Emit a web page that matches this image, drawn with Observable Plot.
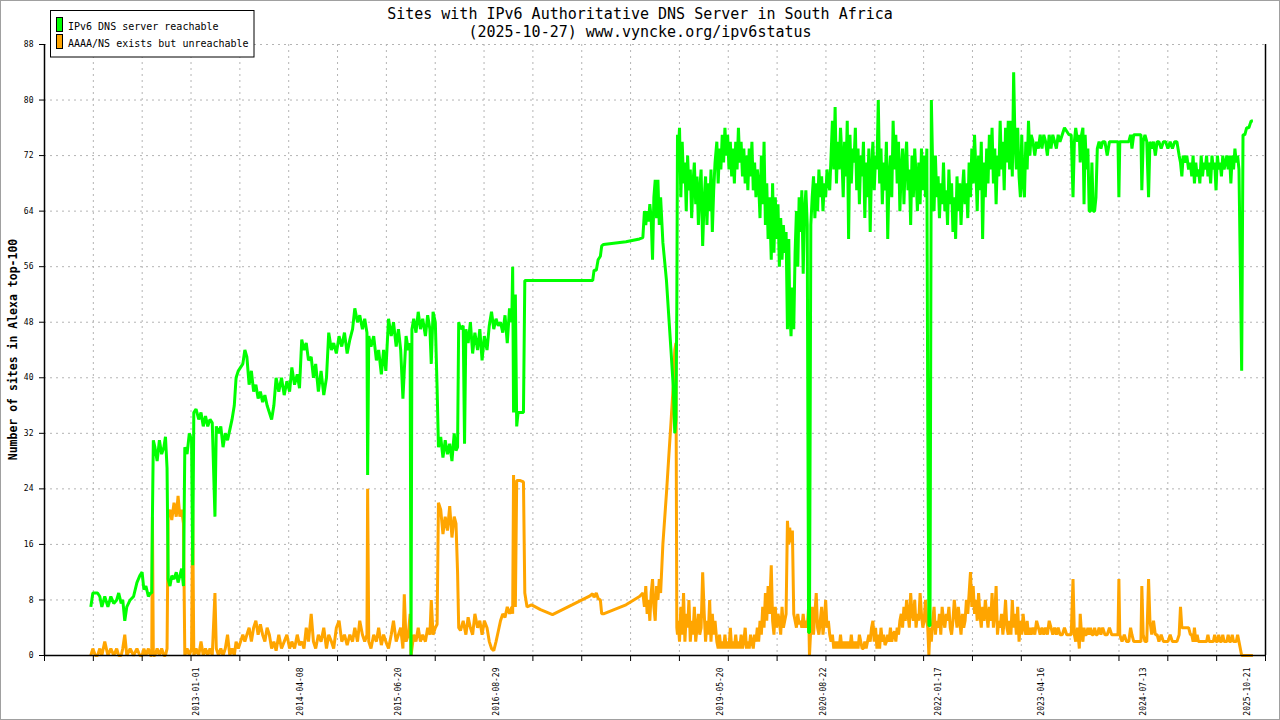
<!DOCTYPE html>
<html>
<head>
<meta charset="utf-8">
<script src="https://cdn.jsdelivr.net/npm/d3@7"></script>
<script src="https://cdn.jsdelivr.net/npm/@observablehq/plot@0.6"></script>
<style>
  html, body { margin: 0; padding: 0; background: #fff; }
  #chart svg { display: block; }
</style>
</head>
<body>
<div id="chart"></div>
<script>
// Days since 2013-01-01 for each measurement
const day = [
  -480,-471,-460,-450,-440,-431,-418,-404,-391,-378,
  -365,-356,-345,-338,-329,-320,-305,-290,-275,-262,
  -252,-244,-235,-224,-215,-209,-206,-202,-195,-185,
  -175,-165,-155,-148,-141,-136,-128,-120,-110,-100,
  -92,-84,-76,-68,-62,-52,-42,-32,-27,-22,
  -12,0,10,20,30,40,50,60,72,78,
  88,98,108,118,128,138,148,158,166,176,
  186,196,205,214,224,234,244,254,264,274,
  284,294,304,314,324,334,344,356,368,380,
  392,404,414,426,438,448,458,468,478,488,
  500,510,520,532,544,556,568,578,590,600,
  612,624,636,648,660,672,684,694,706,716,
  728,738,748,751,756,766,778,790,800,812,
  822,832,844,856,866,878,888,898,908,914,
  922,932,940,944,948,956,966,976,986,996,
  1008,1018,1028,1034,1042,1052,1060,1066,1076,1086,
  1096,1106,1116,1126,1136,1144,1151,1156,1164,1176,
  1182,1188,1198,1208,1218,1228,1240,1250,1260,1270,
  1282,1292,1302,1312,1322,1332,1342,1352,1362,1372,
  1382,1392,1396,1400,1408,1414,1420,1430,1444,1450,
  1460,1480,1520,1573,1660,1740,1752,1758,1768,1776,
  1786,1792,1800,1900,1960,1975,1982,1988,1994,2000,
  2006,2012,2018,2024,2030,2036,2042,2048,2054,2064,
  2080,2090,2100,2110,2117,2122,2126,2129,2132,2138,
  2144,2150,2156,2162,2168,2174,2180,2186,2192,2198,
  2204,2210,2216,2222,2228,2234,2241,2248,2254,2260,
  2266,2272,2278,2284,2290,2296,2304,2310,2316,2322,
  2328,2334,2340,2346,2352,2358,2364,2370,2376,2382,
  2388,2394,2400,2406,2412,2418,2424,2430,2436,2442,
  2448,2454,2460,2466,2472,2478,2484,2490,2496,2502,
  2508,2514,2520,2526,2532,2538,2546,2552,2558,2564,
  2570,2576,2582,2588,2594,2600,2606,2612,2618,2624,
  2628,2634,2640,2646,2652,2658,2664,2670,2676,2682,
  2688,2694,2700,2706,2712,2716,2722,2728,2734,2740,
  2746,2752,2758,2764,2770,2776,2782,2788,2794,2800,
  2806,2812,2818,2824,2830,2836,2842,2848,2854,2860,
  2866,2872,2878,2884,2890,2896,2902,2908,2914,2920,
  2926,2932,2938,2944,2950,2956,2962,2968,2974,2980,
  2986,2992,2998,3004,3010,3016,3022,3028,3034,3040,
  3046,3052,3058,3064,3070,3076,3082,3088,3094,3100,
  3106,3112,3118,3124,3130,3136,3142,3148,3154,3160,
  3166,3172,3178,3184,3190,3196,3202,3208,3214,3220,
  3226,3232,3238,3242,3247,3252,3258,3264,3270,3276,
  3282,3288,3294,3300,3306,3312,3318,3324,3330,3336,
  3342,3348,3354,3360,3366,3372,3378,3384,3390,3396,
  3402,3408,3414,3420,3426,3432,3438,3444,3450,3456,
  3462,3468,3474,3480,3486,3492,3498,3504,3510,3516,
  3522,3528,3534,3540,3546,3552,3558,3564,3570,3576,
  3582,3588,3594,3600,3606,3612,3618,3624,3630,3636,
  3642,3648,3654,3660,3666,3672,3678,3684,3690,3696,
  3702,3710,3718,3726,3734,3742,3750,3758,3766,3774,
  3782,3790,3798,3806,3814,3822,3830,3840,3850,3860,
  3870,3880,3888,3894,3900,3908,3916,3920,3926,3932,
  3937,3942,3948,3954,3960,3966,3972,3978,3984,3990,
  3996,4004,4012,4020,4030,4040,4050,4060,4070,4080,
  4088,4092,4096,4106,4116,4126,4136,4144,4150,4158,
  4166,4174,4182,4190,4194,4200,4208,4216,4224,4230,
  4238,4246,4254,4262,4270,4280,4290,4300,4310,4320,
  4330,4340,4350,4360,4366,4372,4378,4386,4394,4402,
  4410,4416,4422,4428,4434,4440,4446,4452,4458,4464,
  4470,4476,4482,4488,4494,4500,4506,4512,4518,4524,
  4530,4536,4542,4548,4554,4560,4566,4572,4578,4584,
  4590,4596,4602,4608,4614,4620,4626,4632,4638,4644,
  4652,4660,4670,4680,4688
];

// IPv6 DNS server reachable
const reachable = [
  7,9,9,9,8.5,7,8.5,7,8.5,7.5,
  8,9,7.5,8,5,7,8,8.5,10.5,11.5,
  12,9.5,10,8.5,9,9,20,31,30,28,
  31,29,30,31.5,27,11,10,11.5,11,12,
  10.5,11.5,12.5,10,30,29,32,31,13,35,
  35.5,34,35,33,34.5,33,34,33.5,20,33,
  32,33,30,32,31,32.5,34,36,40,41,
  41.5,42,44,43,39,41,38,39,37,38,
  36.5,37.5,36,35,34,36,40,38,40,37.5,
  39.5,38,41.5,39,40.5,38.5,45.5,44,45,42.5,
  43,40,42,38,41,37.5,40,46.5,44,45,
  43.5,46,44.5,46.5,43.5,45.5,47,50,48,49,
  47,48.5,46.5,26,46,44.5,46,42.5,44,40.5,
  44,41,48.5,46,48,44.5,47,44,37,41,
  46,44,45,0,47,48.5,46.5,49.5,47,48.5,
  46,49,47,42,49.5,48,38.5,30,31.5,28.5,
  31,29,30.5,28,32,29.5,30,48,47,47.5,
  30.5,47,45,48,43.5,46.5,44,47,42.5,46,
  44,47.5,49.5,47,48.5,47.5,48,46.5,49,45,
  50,48,56,35,52,33,35,35,35,54,
  54,54,54,54,54,54,54,55.5,55.5,57,
  57.5,59,59.2,59.6,60,60.2,64,62,64,62.5,
  65,63,57,66,68.5,63,68.5,62,66,59.5,
  54,49,44,38.8,32,34,50,75,72,76,
  66,74,68,71,64,72,67,70,63,68,
  71,65,69,62,67,70,59,66,69,62,
  68,64,70,61,67,71,74,68,73,70,
  75,71,76,72,75,70,74,69,73,68,
  74,70,76,71,74,69,73,68,72,67,
  73,69,74,67,71,66,70,68,63,72,
  65,74,62,68,60,66,57,68,58,66,
  60,65,56,63,57,62,58,61,47,60,
  50,46,53,47,58,64,56,66,61,67,
  55,64,67,62,3.3,3.3,62,66,69,63,
  68,64,70,66,69,64,68,66,70,68,
  67,72,77,70,79,68,74,70,76,72,
  66,74,69,77,60,75,68,73,71,76,
  67,73,65,72,69,74,63,71,66,73,
  61,70,74,67,72,70,80,68,73,65,
  71,67,74,60,69,72,66,77,70,75,
  68,74,64,70,73,65,71,74,67,70,
  62,72,66,73,69,64,71,65,73,67,
  72,66,73,34,4.3,4.3,80,70,64,72,
  66,69,63,68,65,71,64,67,62,70,
  65,68,61,66,60,69,64,68,62,67,
  70,65,68,63,71,66,73,68,75,70,
  64,72,67,74,60,71,66,73,68,75,
  70,76,68,73,65,72,69,77,70,74,
  67,76,71,77,70,77,69,84,74,70,
  76,69,66,75,68,66,74,70,77,72,
  75,74,72,74,73,75,73,75,74,72,
  75,73,75,74,73,75,74,75,76,75.5,
  75,75,66,74,76,74,75,71,75,76,
  65,75,70,73,64,64,71,64,64,66,
  73,74,73,74,74,72,74,74,74,74,
  74,66,74,74,74,74,74,75,73,75,
  75,75,75,75,67,74,75,74,66,74,
  73,74,72,74,74,73,74,74,73,74,
  73,74,74,72,71,69,72,71,72,70,
  71,69,72,68,71,69,70,68,72,69,
  71,70,72,69,71,68,72,70,71,67,
  72,70,71,69,72,70,71,72,70,72,
  68,72,70,73,71,72,70,56,41,75,
  75,76,76,77,77
];

// AAAA/NS exists but unreachable
const unreachable = [
  0,1,0,0,1,0,2,0,1,0,
  1,0,0,1,3,0,1,0,1,0,
  0,1,0,1,0,0,20,0,0,1,
  0,1,0,0,1,20,21,19.5,22,20,
  23,20,21,19,0,1,0,1,21,0,
  1,0,2,0,1,0,1,0,9,1,
  0,1,0,1,3,0,1,0,2,1,
  2,3,2,3,4,2,4,5,3,4.5,
  3,2,4,3,1,2,0.7,3,1,2,
  3,1,2,1,3,1.5,2,1,4,2,
  6,2,1,3,2,4,1,3,2,1,
  4,5,2,3,1.5,3,2,4,2,5,
  3,2,3,24,2,1,3,2,4,1.5,
  3,2,1,3,5,2,3,4,1,8.8,
  2,3,6,0,1,3,2,4,2,3,
  2,4,3,8,3,4,4.5,22,21,17.5,
  20,18,21.5,17,20,19,12,4,3.6,5,
  4,3,5.5,4,3,6,4,5,3,5,
  4,2,1,0.7,2,3.5,5,6,5.5,7,
  6,7,6,26,7,25.2,25.2,25.2,25,9,
  7,7.3,6.6,5.9,7.3,8.6,8.9,8.4,9,8.2,
  8,6,6,7.3,8.5,9,7,10,6,8,
  5,9,11,7,5,10,8,11,9,16,
  23.4,28.5,33.5,38.8,44,45,4,3,5,2,
  7,3,9,2,6,4,8,2,5,3,
  7,2,4,6,3,4,12,6,2,5,
  3,8,2,6,3,5,2,1,3,1,
  2,1,3,1,2,1,4,1,2,1,
  3,1,2,1,3,1,2,4,1,2,
  1,3,2,1,3,2,4,2,5,3,
  7,4,9,5,10,6,13,5,3,7,
  4,6,5,3,7,4,5,6,19.4,16,
  18.4,16.3,18,6,5,4,6,4.5,5,4,
  6,4,5,4,7,0,4,7,3,6,
  9,4,3,5,7,3,5,8,4,5,
  3,2,3,1,2,1,2,1,3,1,
  2,1,2,1,2,1,3,1,2,1,
  2,1,3,2,1,1,2,1,2,3,
  2,4,5,2,4,1,3,1,4,2,
  3,1.5,2,3,2,4,2,3,3.5,2,
  4,3,5,6,4,7,5,8,6,4,
  9,6,5,8,4,6,5,9,6,4,
  5,8,5,4,0,4,2,5,7,3,
  5,4,6,3,7,5,4,6,5,7,
  4,3,5,8,6,4,7,5,3,6,
  4,5,8,6,9,12,7,10,6,8,
  5,9,6,4,7,5,8,6,4,7,
  5,9,4,6,10,3,5,4,6,3,
  5,8,4,3,5,3,8,4,6,3,
  7,2,5,3,6,4,3,5,3,4,
  3,4,3,5,4,3,4,3,4,3,
  5,4,3,4,3,4,3,3,4,3,
  3,3,11,3,2,4,1,6,3,2,
  4,3,3,4,3,4,3,3,4,3,
  3,4,3,4,3,3,4,3,3,3,
  3,11,3,2,3,2,2,4,3,2,
  2,2,2,2,10,3,2,2,11,5,
  3,5,3,3,2,3,2,2,2,3,
  2,2,2,3,7,4,4,4,4,4,
  3,3,2,4,2,3,2,2,2,2,
  2,2,2,3,2,2,2,2,3,2,
  2,3,2,2,3,2,2,2,3,2,
  2,3,2,2,2,3,2,1,0,0,
  0,0,0,0,0
];

const xLabels = ["2013-01-01","2014-04-08","2015-06-20","2016-08-29","2019-05-20",
                 "2020-08-22","2022-01-17","2023-04-16","2024-07-13","2025-10-21"];
const yTicks = [0,8,16,24,32,40,48,56,64,72,80,88];
const seriesNames = ["IPv6 DNS server reachable", "AAAA/NS exists but unreachable"];
const seriesColors = ["#00ff00", "#ffa500"];
const titleText = "Sites with IPv6 Authoritative DNS Server in South Africa";
const subtitleText = "(2025-10-27) www.vyncke.org/ipv6status";
const yTitle = "Number of sites in Alexa top-100";

const base = Date.UTC(2013, 0, 1);
const toDate = d => new Date(base + d * 864e5);
const n = Math.min(day.length, reachable.length, unreachable.length);
const rows = d3.range(n).map(i => ({date: toDate(day[i]), g: reachable[i], o: unreachable[i]}));

const x0 = toDate(-686), x1 = toDate(4744);
const tickDates = d3.range(26).map(k => new Date(+x0 + k * (x1 - x0) / 25));
const FONT = "DejaVu Sans Mono";
const gridStyle = {stroke: "#b4b4b4", strokeDasharray: "2,4", strokeWidth: 1};

const svg = Plot.plot({
  width: 1280,
  height: 720,
  marginLeft: 44,
  marginRight: 15,
  marginTop: 44,
  marginBottom: 65,
  style: {fontFamily: FONT, background: "white", color: "black"},
  x: {type: "utc", domain: [x0, x1]},
  y: {domain: [0, 88]},
  marks: [
    Plot.ruleX(tickDates.slice(1, -1), gridStyle),
    Plot.ruleY(yTicks.slice(1), gridStyle),
    Plot.line(rows, {x: "date", y: "o", stroke: seriesColors[1], strokeWidth: 3, strokeLinejoin: "miter", strokeLinecap: "butt"}),
    Plot.line(rows, {x: "date", y: "g", stroke: seriesColors[0], strokeWidth: 3, strokeLinejoin: "miter", strokeLinecap: "butt"}),
    Plot.ruleX([x0, x1], {stroke: "black", strokeWidth: 1.5}),
    Plot.ruleY([0], {stroke: "black", strokeWidth: 1.5}),
    Plot.axisY({ticks: yTicks, tickSize: 5, tickPadding: 6, label: null, fontSize: 8, tickFormat: d => String(d)}),
    Plot.axisX({ticks: tickDates, tickSize: 6, tickFormat: () => "", label: null}),
    Plot.text(xLabels, {x: d => new Date(d + "T00:00:00Z"), text: d => d, frameAnchor: "bottom",
      rotate: -90, textAnchor: "end", dy: 12, fontSize: 8, fill: "black"})
  ]
});

const s = d3.select(svg);
// outer border
s.append("rect").attr("x", 0.5).attr("y", 0.5).attr("width", 1279).attr("height", 719)
  .attr("fill", "none").attr("stroke", "#a0a0a0");
// titles
s.append("text").attr("x", 640).attr("y", 18.5).attr("text-anchor", "middle")
  .attr("font-family", FONT).attr("font-size", 15).attr("fill", "black").text(titleText);
s.append("text").attr("x", 640).attr("y", 36.5).attr("text-anchor", "middle")
  .attr("font-family", FONT).attr("font-size", 15).attr("fill", "black").text(subtitleText);
// y-axis title
s.append("text").attr("transform", "translate(16.5,349.5) rotate(-90)").attr("text-anchor", "middle")
  .attr("font-family", FONT).attr("font-size", 11.5).attr("font-weight", "bold").attr("fill", "black").text(yTitle);
// legend
const lg = s.append("g");
lg.append("rect").attr("x", 50.5).attr("y", 10.5).attr("width", 203.5).attr("height", 46.5)
  .attr("fill", "white").attr("stroke", "black");
seriesNames.forEach((name, i) => {
  lg.append("rect").attr("x", 56.5).attr("y", 17.5 + i * 17).attr("width", 6).attr("height", 14)
    .attr("fill", seriesColors[i]).attr("stroke", "black");
  lg.append("text").attr("x", 68).attr("y", 29.5 + i * 17.3).attr("text-anchor", "start")
    .attr("font-family", FONT).attr("font-size", 10).attr("fill", "black").text(name);
});

document.getElementById("chart").appendChild(svg);
</script>
</body>
</html>
